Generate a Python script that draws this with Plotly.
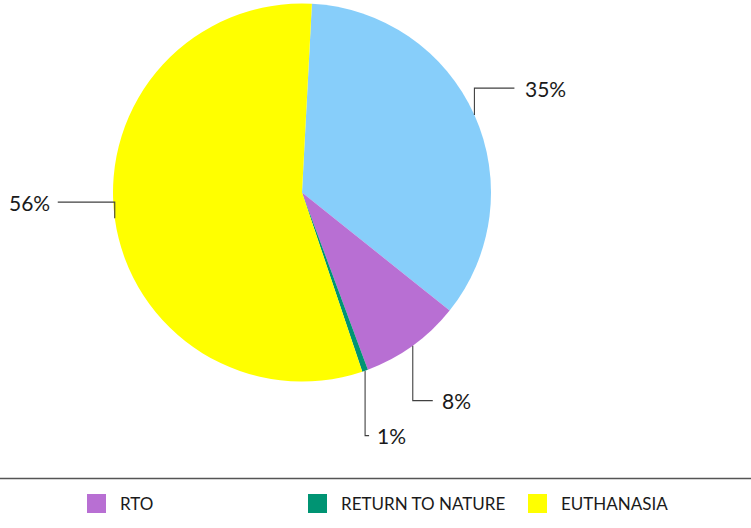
import math
import plotly.graph_objects as go

# ---- data ----
categories = ["OTHER", "RTO", "RETURN TO NATURE", "EUTHANASIA"]
values = [34.9, 8.6, 0.5, 56.0]
label_text = ["35%", "8%", "1%", "56%"]
legend_categories = ["RTO", "RETURN TO NATURE", "EUTHANASIA"]

# ---- style / layout ----
colors = {"OTHER": "#87CEFA", "RTO": "#B86FD3",
          "RETURN TO NATURE": "#009473", "EUTHANASIA": "#FFFF00"}
W, H = 751, 528
CX, CY, R = 302.0, 192.5, 189.0
ROTATION = 3.0
# leader-line geometry per label: (vertical offset px, horizontal length px, text gap px)
leader = [(-27, 40, 9), (55, 20, 7), (65, 4, 6), (-16, -57, 6)]
label_font = dict(family="Lato, 'Open Sans', sans-serif", size=21, color="#1a1a1a")
legend_font = dict(family="Lato, 'Open Sans', sans-serif", size=17, color="#1a1a1a")


def px(x):
    return x / W


def py(y):
    return 1 - y / H


fig = go.Figure()
fig.add_trace(go.Pie(
    labels=categories,
    values=values,
    marker=dict(colors=[colors[c] for c in categories], line=dict(width=0)),
    sort=False,
    direction="clockwise",
    rotation=ROTATION,
    textinfo="none",
    hoverinfo="label+percent",
    showlegend=False,
    domain=dict(x=[px(CX - R), px(CX + R)], y=[py(CY + R), py(CY - R)]),
))

shapes = []
annotations = []
total = sum(values)
start = ROTATION
for v, txt, (dy, dx, gap) in zip(values, label_text, leader):
    span = v / total * 360.0
    mid = math.radians(start + span / 2)
    start += span
    ex = CX + R * math.sin(mid)
    ey = CY - R * math.cos(mid)
    ly = ey + dy
    lx = ex + dx
    shapes.append(dict(
        type="path", xref="paper", yref="paper",
        path=f"M {px(ex)} {py(ey)} L {px(ex)} {py(ly)} L {px(lx)} {py(ly)}",
        line=dict(color="#404040", width=1.1),
    ))
    right = dx >= 0
    annotations.append(dict(
        x=px(lx + (gap if right else -gap)), y=py(ly), xref="paper", yref="paper",
        text=txt, showarrow=False, xanchor="left" if right else "right",
        yanchor="middle", font=label_font,
    ))

# separator line above legend
shapes.append(dict(type="line", xref="paper", yref="paper",
                   x0=0, x1=1, y0=py(478.5), y1=py(478.5),
                   line=dict(color="#555555", width=1.3)))

# manual legend (only three categories shown in the original)
legend_x = [87, 308, 528]
for c, lx0 in zip(legend_categories, legend_x):
    shapes.append(dict(type="rect", xref="paper", yref="paper",
                       x0=px(lx0), x1=px(lx0 + 19), y0=py(513), y1=py(494),
                       fillcolor=colors[c], line=dict(width=0)))
    annotations.append(dict(x=px(lx0 + 31), y=py(503.5), xref="paper", yref="paper",
                            text=c, showarrow=False, xanchor="left", yanchor="middle",
                            font=legend_font))

fig.update_layout(
    width=W, height=H,
    margin=dict(l=0, r=0, t=0, b=0),
    paper_bgcolor="white", plot_bgcolor="white",
    shapes=shapes, annotations=annotations,
    showlegend=False,
)

fig.write_html("out.html",
               config={"displayModeBar": False},
               post_script="document.body.style.margin='0';document.body.style.padding='0';")
